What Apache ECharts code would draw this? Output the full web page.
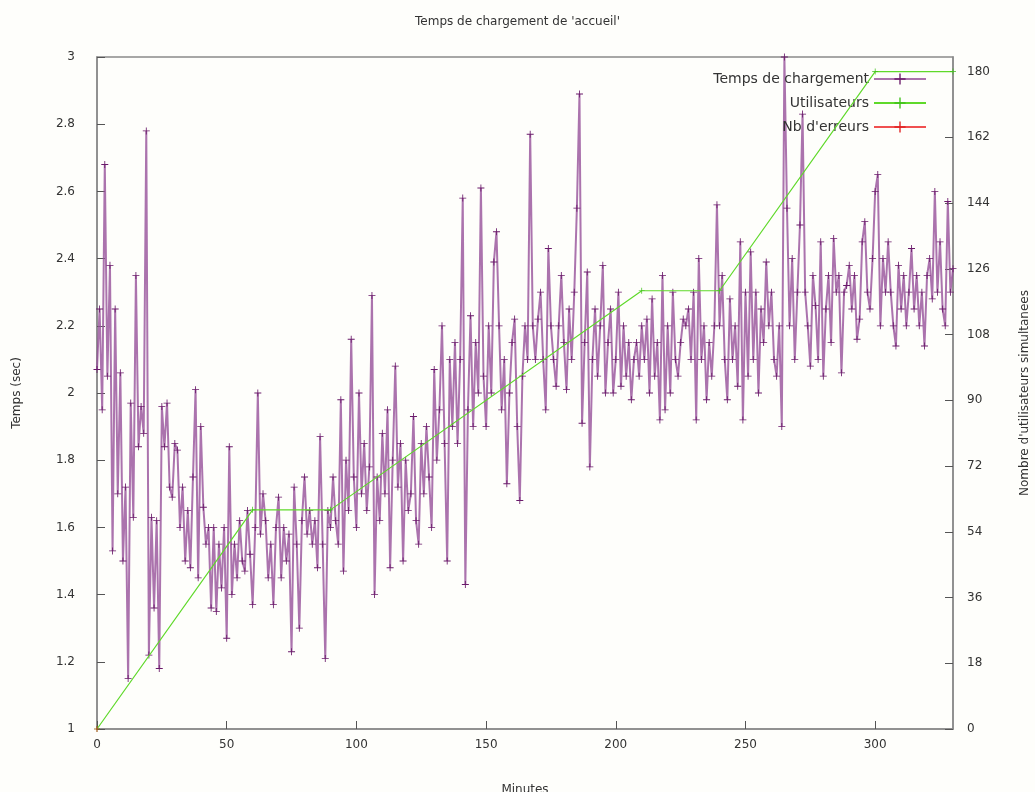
<!DOCTYPE html>
<html>
<head>
<meta charset="utf-8">
<script src="https://cdn.jsdelivr.net/npm/echarts@6/dist/echarts.min.js"></script>
<style>
html,body{margin:0;padding:0;background:#fefefb;}
#chart{width:1035px;height:792px;}
</style>
</head>
<body>
<div id="chart"></div>
<script>
// Load time (sec), one value per minute 0..330
const loadTimes = [
2.07,2.25,1.95,2.68,2.05,2.38,1.53,2.25,1.70,2.06,
1.50,1.72,1.15,1.97,1.63,2.35,1.84,1.96,1.88,2.78,
1.22,1.63,1.36,1.62,1.18,1.96,1.84,1.97,1.72,1.69,
1.85,1.83,1.60,1.72,1.50,1.65,1.48,1.75,2.01,1.45,
1.90,1.66,1.55,1.60,1.36,1.60,1.35,1.55,1.42,1.60,
1.27,1.84,1.40,1.55,1.45,1.62,1.50,1.47,1.65,1.52,
1.37,1.60,2.00,1.58,1.70,1.62,1.45,1.55,1.37,1.60,
1.69,1.45,1.60,1.50,1.58,1.23,1.72,1.55,1.30,1.62,
1.75,1.58,1.65,1.55,1.62,1.48,1.87,1.55,1.21,1.65,
1.60,1.75,1.62,1.55,1.98,1.47,1.80,1.65,2.16,1.75,
1.60,2.00,1.70,1.85,1.65,1.78,2.29,1.40,1.75,1.62,
1.88,1.70,1.95,1.48,1.80,2.08,1.72,1.85,1.50,1.80,
1.65,1.70,1.93,1.62,1.55,1.85,1.70,1.90,1.75,1.60,
2.07,1.80,1.95,2.20,1.85,1.50,2.10,1.90,2.15,1.85,
2.10,2.58,1.43,1.95,2.23,1.90,2.15,2.00,2.61,2.05,
1.90,2.20,2.00,2.39,2.48,2.20,1.95,2.10,1.73,2.00,
2.15,2.22,1.90,1.68,2.05,2.20,2.10,2.77,2.20,2.10,
2.22,2.30,2.10,1.95,2.43,2.20,2.10,2.02,2.20,2.35,
2.15,2.01,2.25,2.10,2.30,2.55,2.89,1.91,2.15,2.36,
1.78,2.10,2.25,2.05,2.20,2.38,2.00,2.15,2.25,2.00,
2.10,2.30,2.02,2.20,2.05,2.15,1.98,2.10,2.15,2.05,
2.20,2.10,2.22,2.00,2.28,2.05,2.15,1.92,2.35,1.95,
2.20,2.00,2.30,2.10,2.05,2.15,2.22,2.20,2.25,2.10,
2.30,1.92,2.40,2.10,2.20,1.98,2.15,2.05,2.20,2.56,
2.20,2.35,2.10,1.98,2.28,2.10,2.20,2.02,2.45,1.92,
2.30,2.05,2.42,2.10,2.30,2.00,2.25,2.15,2.39,2.20,
2.30,2.10,2.05,2.20,1.90,3.00,2.55,2.20,2.40,2.10,
2.30,2.50,2.83,2.30,2.20,2.08,2.35,2.26,2.10,2.45,
2.05,2.25,2.35,2.15,2.46,2.30,2.35,2.06,2.30,2.32,
2.38,2.25,2.35,2.16,2.22,2.45,2.51,2.30,2.25,2.40,
2.60,2.65,2.20,2.40,2.30,2.45,2.30,2.20,2.14,2.38,
2.25,2.35,2.20,2.30,2.43,2.25,2.35,2.20,2.30,2.14,
2.35,2.40,2.28,2.60,2.30,2.45,2.25,2.20,2.57,2.30,
2.37
];
const userMinutes = [0, 60, 90, 210, 240, 300, 330];
const userCounts  = [0, 60, 60, 120, 120, 180, 180];
const errorMinutes = [0];
const errorCounts  = [0];
const xTickInterval = 50;

const timeData = loadTimes.map((v, i) => [i, v]);
const userData = userMinutes.map((m, i) => [m, userCounts[i]]);
const errorData = errorMinutes.map((m, i) => [m, errorCounts[i]]);

const plus = 'path://M0,4.4H10V5.6H0ZM4.4,0H5.6V10H4.4Z';
const font = 'DejaVu Sans';
const txt = '#333';

const chart = echarts.init(document.getElementById('chart'), null, {renderer: 'canvas'});
chart.setOption({
  backgroundColor: '#fefefb',
  animation: false,
  title: {
    text: "Temps de chargement de 'accueil'",
    left: 'center', top: 11,
    textStyle: {fontFamily: font, fontSize: 12, fontWeight: 'normal', color: txt}
  },
  legend: {
    orient: 'vertical', right: 103, top: 67, align: 'right',
    itemWidth: 52, itemHeight: 14, itemGap: 10,
    textStyle: {fontFamily: font, fontSize: 14, color: txt},
    data: ['Temps de chargement', 'Utilisateurs', "Nb d'erreurs"]
  },
  grid: {
    left: 97, right: 82, top: 57, bottom: 63,
    outerBoundsMode: 'none', containLabel: false,
    show: true, borderColor: '#8a8a8a', borderWidth: 1.5, backgroundColor: 'transparent'
  },
  xAxis: {
    type: 'value', min: 0, max: 330, interval: xTickInterval,
    name: 'Minutes', nameLocation: 'middle', nameGap: 55,
    nameTextStyle: {fontFamily: font, fontSize: 12, color: txt},
    axisLine: {lineStyle: {color: '#8a8a8a', width: 1.5}},
    axisTick: {inside: true, length: 8, lineStyle: {color: '#555'}},
    axisLabel: {fontFamily: font, fontSize: 12, color: txt, margin: 10, showMaxLabel: false},
    splitLine: {show: false}
  },
  yAxis: [{
    type: 'value', min: 1, max: 3, interval: 0.2,
    name: 'Temps (sec)', nameLocation: 'middle', nameGap: 74, nameRotate: 90,
    nameTextStyle: {fontFamily: font, fontSize: 12, color: txt},
    axisLine: {show: true, lineStyle: {color: '#8a8a8a', width: 1.5}},
    axisTick: {show: true, inside: true, length: 8, lineStyle: {color: '#555'}},
    axisLabel: {fontFamily: font, fontSize: 12, color: txt, margin: 22,
      formatter: v => String(Math.round(v * 10) / 10)},
    splitLine: {show: false}
  }, {
    type: 'value', min: 0, max: 184, interval: 18, position: 'right',
    name: "Nombre d'utilisateurs simultanees", nameLocation: 'middle', nameGap: 66, nameRotate: 90,
    nameTextStyle: {fontFamily: font, fontSize: 12, color: txt},
    axisLine: {show: true, lineStyle: {color: '#8a8a8a', width: 1.5}},
    axisTick: {show: true, inside: true, length: 8, lineStyle: {color: '#555'}},
    axisLabel: {fontFamily: font, fontSize: 12, color: txt, margin: 14, showMaxLabel: false},
    splitLine: {show: false}
  }],
  series: [{
    name: 'Temps de chargement', type: 'line', yAxisIndex: 0,
    data: timeData,
    symbol: plus, symbolSize: 7, showSymbol: true,
    lineStyle: {color: '#96509a', width: 2, opacity: 0.8},
    itemStyle: {color: '#6a1a6a'},
    z: 3
  }, {
    name: 'Utilisateurs', type: 'line', yAxisIndex: 1,
    data: userData,
    symbol: plus, symbolSize: 6,
    lineStyle: {color: '#5fd92a', width: 1.2},
    itemStyle: {color: '#3fc01a'},
    z: 4
  }, {
    name: "Nb d'erreurs", type: 'line', yAxisIndex: 1,
    data: errorData,
    symbol: plus, symbolSize: 6,
    lineStyle: {color: '#f05050', width: 1.2},
    itemStyle: {color: '#e02020'},
    z: 5
  }]
});
</script>
</body>
</html>
